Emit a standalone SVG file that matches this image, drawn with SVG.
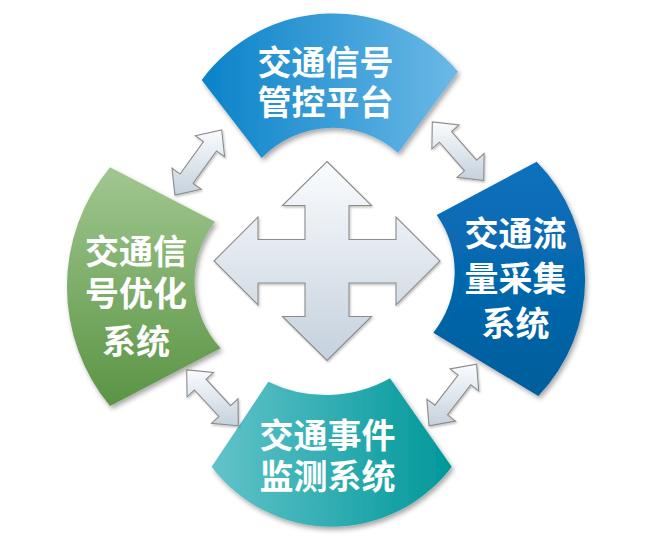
<svg xmlns="http://www.w3.org/2000/svg" width="647" height="541" viewBox="0 0 647 541">
<defs>
<linearGradient id="gTop" x1="0" y1="0" x2="1" y2="0"><stop offset="0" stop-color="#0a82c8"/><stop offset="1" stop-color="#6bb9e7"/></linearGradient>
<linearGradient id="gLeft" x1="0" y1="0" x2="0" y2="1"><stop offset="0" stop-color="#a1c790"/><stop offset="1" stop-color="#5a9444"/></linearGradient>
<linearGradient id="gRight" x1="0" y1="0" x2="0" y2="1"><stop offset="0" stop-color="#0b70be"/><stop offset="1" stop-color="#005e9b"/></linearGradient>
<linearGradient id="gBottom" x1="0" y1="0" x2="1" y2="0"><stop offset="0" stop-color="#62c3c9"/><stop offset="1" stop-color="#00989a"/></linearGradient>
<linearGradient id="gArrow" x1="0" y1="0" x2="0" y2="1"><stop offset="0" stop-color="#fafcfe"/><stop offset="1" stop-color="#c5d1dd"/></linearGradient>
<filter id="shadow" x="-20%" y="-20%" width="140%" height="140%"><feDropShadow dx="2" dy="3" stdDeviation="2.5" flood-color="#000" flood-opacity="0.35"/></filter>
<filter id="ashadow" x="-20%" y="-20%" width="140%" height="140%"><feDropShadow dx="1" dy="1.5" stdDeviation="1.2" flood-color="#000" flood-opacity="0.25"/></filter>
</defs>
<style>
.seg{filter:url(#shadow);}
.lbl{font-family:"Noto Sans CJK SC","Noto Sans CJK JP",sans-serif;font-weight:bold;font-size:34px;fill:#fff;text-anchor:middle;}
.arr{fill:url(#gArrow);stroke:#8c8c8c;stroke-width:1.1;stroke-linejoin:miter;filter:url(#ashadow);}
</style>
<rect width="647" height="541" fill="#fff"/>

<g id="hub">
<path class="arr" d="M327 161.5 L371.5 205.5 L349 205.5 L349 239.5 L396 239.5 L396 217 L440 261 L396 305 L396 283 L349 283 L349 316.5 L371.5 316.5 L327 360.5 L282.5 316.5 L305 316.5 L305 283 L258 283 L258 305 L214 261 L258 217 L258 239.5 L305 239.5 L305 205.5 L282.5 205.5 Z"/>
</g>

<g id="node-top">
<path class="seg" fill="url(#gTop)" d="M201.7 80 A163 163 0 0 1 458 71.7 L398 153 A98 98 0 0 0 261.7 158 Z"/>
<text class="lbl" x="325.5" y="75">交通信号</text>
<text class="lbl" x="325.5" y="115">管控平台</text>
</g>

<g id="node-left">
<path class="seg" fill="url(#gLeft)" d="M215 221.7 L110 167.3 A187 187 0 0 0 110 406 L220.7 348.3 A98 98 0 0 1 215 221.7 Z"/>
<text class="lbl" x="136" y="264">交通信</text>
<text class="lbl" x="136" y="306">号优化</text>
<text class="lbl" x="136" y="354">系统</text>
</g>

<g id="node-right">
<path class="seg" fill="url(#gRight)" d="M436.7 215 L536.7 161.7 A168 168 0 0 1 538.3 396 L433.3 332.7 A98 98 0 0 0 436.7 215 Z"/>
<text class="lbl" x="515.5" y="246">交通流</text>
<text class="lbl" x="515.5" y="291">量采集</text>
<text class="lbl" x="515.5" y="336">系统</text>
</g>

<g id="node-bottom">
<path class="seg" fill="url(#gBottom)" d="M268.3 381.7 A131 131 0 0 0 390 378.3 L451.7 466.7 A150 150 0 0 1 211.7 466.7 Z"/>
<text class="lbl" x="327.5" y="448">交通事件</text>
<text class="lbl" x="327.5" y="489">监测系统</text>
</g>

<g id="connectors">
<polygon class="arr" points="221.7,130 224.6,156.8 216.5,150.9 193.1,183.4 201.2,189.3 174.9,195 172,168.2 180.1,174.1 203.5,141.6 195.4,135.7"/>
<polygon class="arr" points="483.7,180.5 457,177.4 464.5,170.8 439.4,142.2 431.9,148.8 432.3,121.9 459,125 451.5,131.6 476.6,160.2 484.1,153.6"/>
<polygon class="arr" points="238.3,425.7 211.5,423.3 218.9,416.4 194.4,390 187.1,396.8 186.7,369.9 213.5,372.4 206.1,379.2 230.6,405.6 238,398.8"/>
<polygon class="arr" points="476.6,364.1 478.7,390.9 470.8,384.8 447.5,415 455.5,421.1 429,425.9 426.9,399.1 434.9,405.2 458.1,375 450.1,368.9"/>
</g>
</svg>
